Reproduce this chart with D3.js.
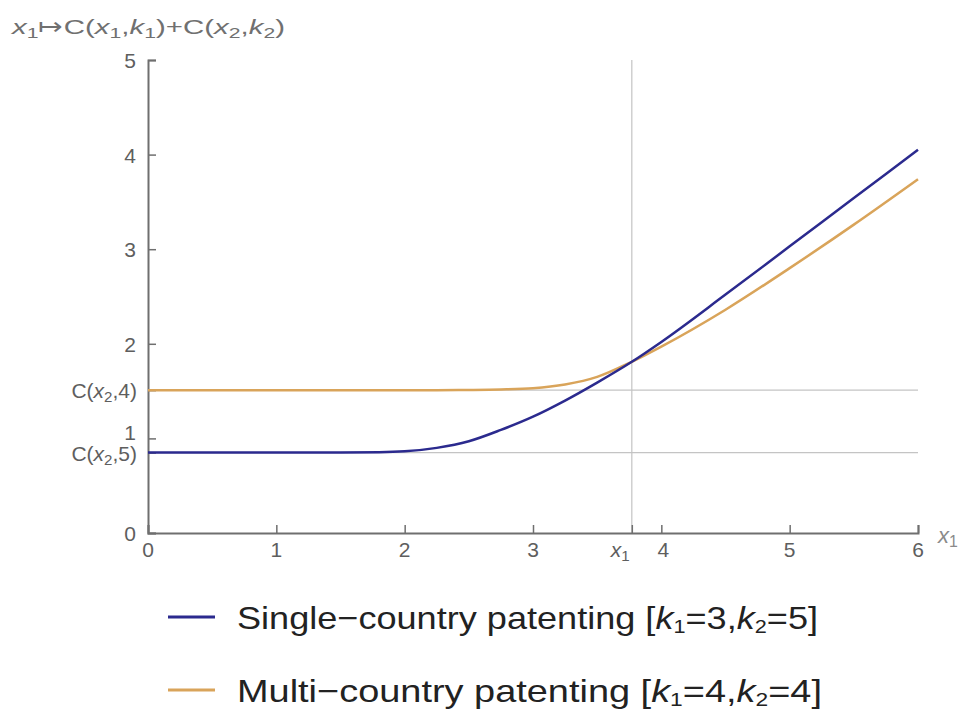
<!DOCTYPE html>
<html lang="en">
<head>
<meta charset="UTF-8">
<title>Patenting cost</title>
<script src="https://cdn.jsdelivr.net/npm/d3@7"></script>
<style>
    body { margin: 0; background: #fff; }
    text { font-family: "Liberation Sans", Arial, sans-serif; }
</style>
</head>
<body>
<svg></svg>
<script>
    // values
    const xValues = [0, 0.5, 1, 1.5, 1.8, 2, 2.25, 2.5, 2.75, 3, 3.25, 3.5, 3.77, 4, 4.5, 5, 5.5, 6];
    const singleCountry = [0.85, 0.85, 0.85, 0.85, 0.853, 0.863, 0.9, 0.97, 1.09, 1.23, 1.40, 1.59, 1.81, 2.02, 2.52, 3.03, 3.54, 4.05];
    const multiCountry = [1.51, 1.51, 1.51, 1.51, 1.51, 1.51, 1.51, 1.512, 1.517, 1.53, 1.57, 1.65, 1.81, 1.97, 2.36, 2.80, 3.26, 3.74];
    const xTicks = [0, 1, 2, 3, 4, 5, 6];
    const yTicks = [0, 1, 2, 3, 4, 5];
    const x1Mark = 3.77;          // crossing point, labelled x1
    const cLevels = [1.51, 0.85]; // C(x2,4), C(x2,5)

    const width = 968, height = 711;
    const blue = '#2b2a8e', orange = '#d9a45a', axisCol = '#6f6f6f', labelCol = '#5e5e5e';

    const svg = d3.select('svg').attr('width', width).attr('height', height);

    const x = d3.scaleLinear().domain([0, 6]).range([148, 918]);
    const y = d3.scaleLinear().domain([0, 5]).range([533, 60]);

    // writes rich text: parts are [text, italic?, subscript?]
    function rich(sel, parts, size, subScale = 0.7, shift = 0.25) {
        parts.forEach(([t, it, sub], i) => {
            const prevSub = i > 0 && parts[i - 1][2];
            sel.append('tspan')
                .attr('font-style', it ? 'italic' : 'normal')
                .attr('font-size', sub ? size * subScale : size)
                .attr('dy', sub && !prevSub ? size * shift : (!sub && prevSub ? -size * shift : 0))
                .text(t);
        });
        return sel;
    }

    // squeeze or stretch a text to a given width, keeping its left edge
    function fitWidth(t, left, target) {
        const w = t.node().getComputedTextLength();
        t.attr('transform', `translate(${left},0) scale(${target / w},1) translate(${-left},0)`);
    }

    // thin guide lines
    svg.append('g').selectAll('line')
        .data(cLevels)
        .join('line')
        .attr('x1', x(0)).attr('x2', x(6))
        .attr('y1', d => y(d)).attr('y2', d => y(d))
        .attr('stroke', '#c4c4c4').attr('stroke-width', 1.2);
    svg.append('line')
        .attr('x1', x(x1Mark)).attr('x2', x(x1Mark))
        .attr('y1', y(5)).attr('y2', y(0))
        .attr('stroke', '#c4c4c4').attr('stroke-width', 1.2);

    // axes
    const xAxis = svg.append('g')
        .attr('transform', `translate(0,${y(0)})`)
        .call(d3.axisBottom(x).tickValues(xTicks.concat([x1Mark])).tickSize(-8).tickFormat(''));
    const yAxis = svg.append('g')
        .attr('transform', `translate(${x(0)},0)`)
        .call(d3.axisLeft(y).tickValues(yTicks.concat(cLevels)).tickSize(-8).tickFormat(''));
    [xAxis, yAxis].forEach(a => {
        a.select('.domain').attr('stroke', axisCol).attr('stroke-width', 2);
        a.selectAll('.tick line').attr('stroke', axisCol).attr('stroke-width', 1.5);
    });

    // tick labels
    svg.append('g').selectAll('text')
        .data(xTicks)
        .join('text')
        .attr('x', d => x(d) + (d === 4 ? 2 : 0))
        .attr('y', y(0) + 24)
        .attr('text-anchor', 'middle')
        .attr('fill', labelCol)
        .attr('font-size', 21)
        .text(d => d);
    rich(svg.append('text').attr('x', x(x1Mark) - 21).attr('y', y(0) + 24).attr('fill', labelCol),
        [['x', true, false], ['1', false, true]], 21, 0.72, 0.2);

    svg.append('g').selectAll('text')
        .data(yTicks)
        .join('text')
        .attr('x', x(0) - 12)
        .attr('y', d => y(d) + (d === 1 ? 2 : 8))
        .attr('text-anchor', 'end')
        .attr('fill', labelCol)
        .attr('font-size', 21)
        .text(d => d);
    cLevels.forEach((v, i) => {
        rich(svg.append('text').attr('x', x(0) - 11).attr('y', y(v) + 8).attr('text-anchor', 'end').attr('fill', labelCol),
            [['C(', false, false], ['x', true, false], ['2', false, true], [i === 0 ? ',4)' : ',5)', false, false]], 21, 0.72, 0.2);
    });

    // axis labels
    rich(svg.append('text').attr('x', 938).attr('y', y(0) + 10).attr('fill', '#8a8a8a'),
        [['x', true, false], ['1', false, true]], 22, 0.72, 0.2);
    const topLabel = rich(svg.append('text').attr('x', 12).attr('y', 34).attr('fill', '#707070'),
        [['x', true, false], ['1', false, true], ['\u21a6C(', false, false], ['x', true, false], ['1', false, true],
         [',', false, false], ['k', true, false], ['1', false, true], [')+C(', false, false], ['x', true, false],
         ['2', false, true], [',', false, false], ['k', true, false], ['2', false, true], [')', false, false]], 21, 0.72, 0.2);
    fitWidth(topLabel, 12, 273);

    // curves
    const line = d3.line()
        .x((d, i) => x(xValues[i]))
        .y(d => y(d))
        .curve(d3.curveMonotoneX);
    svg.append('path').datum(multiCountry)
        .attr('d', line).attr('fill', 'none').attr('stroke', orange).attr('stroke-width', 2.5);
    svg.append('path').datum(singleCountry)
        .attr('d', line).attr('fill', 'none').attr('stroke', blue).attr('stroke-width', 2.5);

    // legend
    const legend = [
        { color: blue, parts: [['Single\u2212country patenting [', false, false], ['k', true, false], ['1', false, true], ['=3,', false, false], ['k', true, false], ['2', false, true], ['=5]', false, false]] },
        { color: orange, parts: [['Multi\u2212country patenting [', false, false], ['k', true, false], ['1', false, true], ['=4,', false, false], ['k', true, false], ['2', false, true], ['=4]', false, false]] }
    ];
    legend.forEach((l, i) => {
        const ly = 617 + i * 73;
        svg.append('line').attr('x1', 168).attr('x2', 215).attr('y1', ly).attr('y2', ly)
            .attr('stroke', l.color).attr('stroke-width', 3);
        const t = rich(svg.append('text').attr('x', 237).attr('y', ly + 12).attr('fill', '#222'), l.parts, 32, 0.6, 0.12);
        fitWidth(t, 237, i === 0 ? 581 : 585);
    });
</script>
</body>
</html>
